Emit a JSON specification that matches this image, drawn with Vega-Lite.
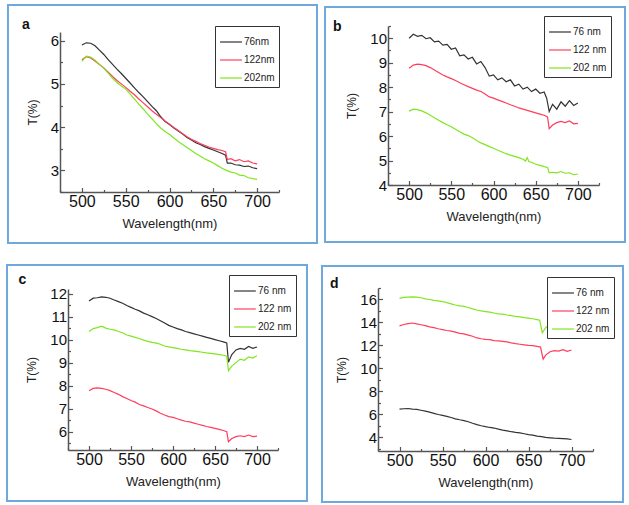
{
"$schema": "https://vega.github.io/schema/vega-lite/v6.json",
"background": "white",
"padding": 0,
"config": {
 "view": {"stroke": null},
 "axis": {"grid": false, "domainColor": "#555", "domainWidth": 1.5, "tickColor": "#555", "tickWidth": 1.2, "tickCount": 100, "labelFont": "Liberation Sans", "labelColor": "#111", "labelOverlap": false, "labelFlush": false, "titleFont": "Liberation Sans", "titleFontWeight": "normal", "titleColor": "#222", "titleFontSize": 13},
 "axisX": {"labelFontSize": 16, "labelPadding": 6, "titlePadding": 6},
 "axisY": {"labelFontSize": 15, "labelPadding": 6, "titlePadding": 11, "titleFontSize": 12},
 "legend": {"orient": "none", "strokeColor": "#333", "fillColor": "white", "padding": 4, "symbolType": "stroke", "symbolSize": 480, "symbolStrokeWidth": 1.5, "labelFont": "Liberation Sans", "labelFontSize": 10, "labelColor": "#222", "labelOffset": 1, "rowPadding": 1, "title": null},
 "line": {"strokeWidth": 1.2}
},
"datasets": {
 "a": [
  {"s":"76nm","w":500,"t":5.90},{"s":"76nm","w":505,"t":5.95},{"s":"76nm","w":510,"t":5.94},{"s":"76nm","w":515,"t":5.88},{"s":"76nm","w":520,"t":5.78},{"s":"76nm","w":525,"t":5.68},{"s":"76nm","w":530,"t":5.56},{"s":"76nm","w":535,"t":5.45},{"s":"76nm","w":540,"t":5.34},{"s":"76nm","w":545,"t":5.24},{"s":"76nm","w":550,"t":5.13},{"s":"76nm","w":555,"t":5.02},{"s":"76nm","w":560,"t":4.91},{"s":"76nm","w":565,"t":4.80},{"s":"76nm","w":570,"t":4.70},{"s":"76nm","w":575,"t":4.59},{"s":"76nm","w":580,"t":4.48},{"s":"76nm","w":585,"t":4.38},{"s":"76nm","w":590,"t":4.24},{"s":"76nm","w":595,"t":4.13},{"s":"76nm","w":600,"t":4.06},{"s":"76nm","w":605,"t":3.98},{"s":"76nm","w":610,"t":3.91},{"s":"76nm","w":615,"t":3.84},{"s":"76nm","w":620,"t":3.76},{"s":"76nm","w":625,"t":3.70},{"s":"76nm","w":630,"t":3.64},{"s":"76nm","w":635,"t":3.60},{"s":"76nm","w":640,"t":3.55},{"s":"76nm","w":645,"t":3.51},{"s":"76nm","w":650,"t":3.47},{"s":"76nm","w":655,"t":3.43},{"s":"76nm","w":660,"t":3.39},{"s":"76nm","w":664,"t":3.35},{"s":"76nm","w":666,"t":3.17},{"s":"76nm","w":670,"t":3.17},{"s":"76nm","w":675,"t":3.13},{"s":"76nm","w":680,"t":3.12},{"s":"76nm","w":685,"t":3.09},{"s":"76nm","w":690,"t":3.10},{"s":"76nm","w":695,"t":3.06},{"s":"76nm","w":700,"t":3.04},
  {"s":"122nm","w":500,"t":5.56},{"s":"122nm","w":505,"t":5.63},{"s":"122nm","w":510,"t":5.60},{"s":"122nm","w":515,"t":5.53},{"s":"122nm","w":520,"t":5.45},{"s":"122nm","w":525,"t":5.37},{"s":"122nm","w":530,"t":5.27},{"s":"122nm","w":535,"t":5.17},{"s":"122nm","w":540,"t":5.08},{"s":"122nm","w":545,"t":5.00},{"s":"122nm","w":550,"t":4.92},{"s":"122nm","w":555,"t":4.83},{"s":"122nm","w":560,"t":4.75},{"s":"122nm","w":565,"t":4.65},{"s":"122nm","w":570,"t":4.56},{"s":"122nm","w":575,"t":4.47},{"s":"122nm","w":580,"t":4.38},{"s":"122nm","w":585,"t":4.30},{"s":"122nm","w":590,"t":4.22},{"s":"122nm","w":595,"t":4.14},{"s":"122nm","w":600,"t":4.07},{"s":"122nm","w":605,"t":3.99},{"s":"122nm","w":610,"t":3.92},{"s":"122nm","w":615,"t":3.85},{"s":"122nm","w":620,"t":3.78},{"s":"122nm","w":625,"t":3.72},{"s":"122nm","w":630,"t":3.67},{"s":"122nm","w":635,"t":3.62},{"s":"122nm","w":640,"t":3.58},{"s":"122nm","w":645,"t":3.54},{"s":"122nm","w":650,"t":3.51},{"s":"122nm","w":655,"t":3.48},{"s":"122nm","w":660,"t":3.46},{"s":"122nm","w":664,"t":3.43},{"s":"122nm","w":666,"t":3.25},{"s":"122nm","w":670,"t":3.27},{"s":"122nm","w":675,"t":3.22},{"s":"122nm","w":680,"t":3.25},{"s":"122nm","w":685,"t":3.20},{"s":"122nm","w":690,"t":3.22},{"s":"122nm","w":695,"t":3.17},{"s":"122nm","w":700,"t":3.15},
  {"s":"202nm","w":500,"t":5.52},{"s":"202nm","w":505,"t":5.64},{"s":"202nm","w":510,"t":5.62},{"s":"202nm","w":515,"t":5.55},{"s":"202nm","w":520,"t":5.45},{"s":"202nm","w":525,"t":5.36},{"s":"202nm","w":530,"t":5.25},{"s":"202nm","w":535,"t":5.13},{"s":"202nm","w":540,"t":5.03},{"s":"202nm","w":545,"t":4.95},{"s":"202nm","w":550,"t":4.88},{"s":"202nm","w":555,"t":4.77},{"s":"202nm","w":560,"t":4.65},{"s":"202nm","w":565,"t":4.53},{"s":"202nm","w":570,"t":4.42},{"s":"202nm","w":575,"t":4.30},{"s":"202nm","w":580,"t":4.19},{"s":"202nm","w":585,"t":4.08},{"s":"202nm","w":590,"t":3.98},{"s":"202nm","w":595,"t":3.90},{"s":"202nm","w":600,"t":3.83},{"s":"202nm","w":605,"t":3.75},{"s":"202nm","w":610,"t":3.67},{"s":"202nm","w":615,"t":3.60},{"s":"202nm","w":620,"t":3.53},{"s":"202nm","w":625,"t":3.46},{"s":"202nm","w":630,"t":3.39},{"s":"202nm","w":635,"t":3.33},{"s":"202nm","w":640,"t":3.27},{"s":"202nm","w":645,"t":3.22},{"s":"202nm","w":650,"t":3.17},{"s":"202nm","w":655,"t":3.11},{"s":"202nm","w":660,"t":3.05},{"s":"202nm","w":665,"t":3.00},{"s":"202nm","w":670,"t":2.96},{"s":"202nm","w":675,"t":2.94},{"s":"202nm","w":680,"t":2.89},{"s":"202nm","w":685,"t":2.88},{"s":"202nm","w":690,"t":2.83},{"s":"202nm","w":695,"t":2.81},{"s":"202nm","w":700,"t":2.79}
 ],
 "b": [
  {"s":"76 nm","w":500,"t":10.00},{"s":"76 nm","w":505,"t":10.16},{"s":"76 nm","w":510,"t":10.08},{"s":"76 nm","w":515,"t":10.12},{"s":"76 nm","w":520,"t":9.98},{"s":"76 nm","w":525,"t":10.02},{"s":"76 nm","w":530,"t":9.85},{"s":"76 nm","w":535,"t":9.88},{"s":"76 nm","w":540,"t":9.72},{"s":"76 nm","w":545,"t":9.75},{"s":"76 nm","w":550,"t":9.55},{"s":"76 nm","w":555,"t":9.60},{"s":"76 nm","w":560,"t":9.28},{"s":"76 nm","w":565,"t":9.32},{"s":"76 nm","w":570,"t":9.15},{"s":"76 nm","w":575,"t":9.22},{"s":"76 nm","w":580,"t":8.95},{"s":"76 nm","w":585,"t":9.05},{"s":"76 nm","w":590,"t":8.80},{"s":"76 nm","w":595,"t":8.45},{"s":"76 nm","w":600,"t":8.50},{"s":"76 nm","w":605,"t":8.30},{"s":"76 nm","w":610,"t":8.38},{"s":"76 nm","w":615,"t":8.22},{"s":"76 nm","w":620,"t":8.30},{"s":"76 nm","w":625,"t":8.05},{"s":"76 nm","w":630,"t":8.12},{"s":"76 nm","w":635,"t":7.92},{"s":"76 nm","w":640,"t":8.00},{"s":"76 nm","w":645,"t":7.82},{"s":"76 nm","w":650,"t":7.92},{"s":"76 nm","w":655,"t":7.75},{"s":"76 nm","w":660,"t":7.80},{"s":"76 nm","w":663,"t":7.55},{"s":"76 nm","w":666,"t":7.00},{"s":"76 nm","w":670,"t":7.30},{"s":"76 nm","w":675,"t":7.10},{"s":"76 nm","w":680,"t":7.40},{"s":"76 nm","w":685,"t":7.22},{"s":"76 nm","w":690,"t":7.45},{"s":"76 nm","w":695,"t":7.25},{"s":"76 nm","w":700,"t":7.35},
  {"s":"122 nm","w":500,"t":8.77},{"s":"122 nm","w":505,"t":8.90},{"s":"122 nm","w":510,"t":8.94},{"s":"122 nm","w":515,"t":8.92},{"s":"122 nm","w":520,"t":8.88},{"s":"122 nm","w":525,"t":8.80},{"s":"122 nm","w":530,"t":8.70},{"s":"122 nm","w":535,"t":8.60},{"s":"122 nm","w":540,"t":8.50},{"s":"122 nm","w":545,"t":8.42},{"s":"122 nm","w":550,"t":8.35},{"s":"122 nm","w":555,"t":8.27},{"s":"122 nm","w":560,"t":8.18},{"s":"122 nm","w":565,"t":8.10},{"s":"122 nm","w":570,"t":8.02},{"s":"122 nm","w":575,"t":7.95},{"s":"122 nm","w":580,"t":7.88},{"s":"122 nm","w":585,"t":7.82},{"s":"122 nm","w":590,"t":7.72},{"s":"122 nm","w":595,"t":7.60},{"s":"122 nm","w":600,"t":7.55},{"s":"122 nm","w":605,"t":7.48},{"s":"122 nm","w":610,"t":7.42},{"s":"122 nm","w":615,"t":7.35},{"s":"122 nm","w":620,"t":7.28},{"s":"122 nm","w":625,"t":7.22},{"s":"122 nm","w":630,"t":7.15},{"s":"122 nm","w":635,"t":7.10},{"s":"122 nm","w":640,"t":7.05},{"s":"122 nm","w":645,"t":7.00},{"s":"122 nm","w":650,"t":6.95},{"s":"122 nm","w":655,"t":6.90},{"s":"122 nm","w":660,"t":6.85},{"s":"122 nm","w":664,"t":6.78},{"s":"122 nm","w":666,"t":6.30},{"s":"122 nm","w":670,"t":6.45},{"s":"122 nm","w":675,"t":6.55},{"s":"122 nm","w":680,"t":6.60},{"s":"122 nm","w":685,"t":6.55},{"s":"122 nm","w":690,"t":6.62},{"s":"122 nm","w":695,"t":6.50},{"s":"122 nm","w":700,"t":6.52},
  {"s":"202 nm","w":500,"t":7.02},{"s":"202 nm","w":505,"t":7.10},{"s":"202 nm","w":510,"t":7.08},{"s":"202 nm","w":515,"t":7.03},{"s":"202 nm","w":520,"t":6.95},{"s":"202 nm","w":525,"t":6.85},{"s":"202 nm","w":530,"t":6.75},{"s":"202 nm","w":535,"t":6.65},{"s":"202 nm","w":540,"t":6.55},{"s":"202 nm","w":545,"t":6.46},{"s":"202 nm","w":550,"t":6.38},{"s":"202 nm","w":555,"t":6.28},{"s":"202 nm","w":560,"t":6.18},{"s":"202 nm","w":565,"t":6.08},{"s":"202 nm","w":570,"t":6.02},{"s":"202 nm","w":575,"t":5.93},{"s":"202 nm","w":580,"t":5.82},{"s":"202 nm","w":585,"t":5.72},{"s":"202 nm","w":590,"t":5.65},{"s":"202 nm","w":595,"t":5.57},{"s":"202 nm","w":600,"t":5.50},{"s":"202 nm","w":605,"t":5.42},{"s":"202 nm","w":610,"t":5.35},{"s":"202 nm","w":615,"t":5.28},{"s":"202 nm","w":620,"t":5.22},{"s":"202 nm","w":625,"t":5.17},{"s":"202 nm","w":630,"t":5.12},{"s":"202 nm","w":635,"t":5.05},{"s":"202 nm","w":638,"t":4.98},{"s":"202 nm","w":640,"t":5.12},{"s":"202 nm","w":642,"t":4.95},{"s":"202 nm","w":645,"t":4.93},{"s":"202 nm","w":650,"t":4.85},{"s":"202 nm","w":655,"t":4.80},{"s":"202 nm","w":660,"t":4.75},{"s":"202 nm","w":664,"t":4.72},{"s":"202 nm","w":666,"t":4.50},{"s":"202 nm","w":670,"t":4.52},{"s":"202 nm","w":675,"t":4.50},{"s":"202 nm","w":680,"t":4.55},{"s":"202 nm","w":685,"t":4.48},{"s":"202 nm","w":690,"t":4.50},{"s":"202 nm","w":695,"t":4.42},{"s":"202 nm","w":700,"t":4.45}
 ],
 "c": [
  {"s":"76 nm","w":500,"t":11.68},{"s":"76 nm","w":505,"t":11.80},{"s":"76 nm","w":510,"t":11.82},{"s":"76 nm","w":515,"t":11.86},{"s":"76 nm","w":520,"t":11.84},{"s":"76 nm","w":525,"t":11.80},{"s":"76 nm","w":530,"t":11.72},{"s":"76 nm","w":535,"t":11.65},{"s":"76 nm","w":540,"t":11.58},{"s":"76 nm","w":545,"t":11.48},{"s":"76 nm","w":550,"t":11.40},{"s":"76 nm","w":555,"t":11.32},{"s":"76 nm","w":560,"t":11.25},{"s":"76 nm","w":565,"t":11.15},{"s":"76 nm","w":570,"t":11.08},{"s":"76 nm","w":575,"t":11.00},{"s":"76 nm","w":580,"t":10.92},{"s":"76 nm","w":585,"t":10.82},{"s":"76 nm","w":590,"t":10.72},{"s":"76 nm","w":595,"t":10.62},{"s":"76 nm","w":600,"t":10.55},{"s":"76 nm","w":605,"t":10.48},{"s":"76 nm","w":610,"t":10.42},{"s":"76 nm","w":615,"t":10.35},{"s":"76 nm","w":620,"t":10.30},{"s":"76 nm","w":625,"t":10.25},{"s":"76 nm","w":630,"t":10.20},{"s":"76 nm","w":635,"t":10.15},{"s":"76 nm","w":640,"t":10.10},{"s":"76 nm","w":645,"t":10.05},{"s":"76 nm","w":650,"t":10.00},{"s":"76 nm","w":655,"t":9.95},{"s":"76 nm","w":660,"t":9.90},{"s":"76 nm","w":664,"t":9.85},{"s":"76 nm","w":666,"t":9.02},{"s":"76 nm","w":670,"t":9.35},{"s":"76 nm","w":675,"t":9.55},{"s":"76 nm","w":680,"t":9.62},{"s":"76 nm","w":685,"t":9.58},{"s":"76 nm","w":690,"t":9.70},{"s":"76 nm","w":695,"t":9.62},{"s":"76 nm","w":700,"t":9.68},
  {"s":"122 nm","w":500,"t":7.78},{"s":"122 nm","w":505,"t":7.88},{"s":"122 nm","w":510,"t":7.90},{"s":"122 nm","w":515,"t":7.88},{"s":"122 nm","w":520,"t":7.84},{"s":"122 nm","w":525,"t":7.78},{"s":"122 nm","w":530,"t":7.70},{"s":"122 nm","w":535,"t":7.62},{"s":"122 nm","w":540,"t":7.52},{"s":"122 nm","w":545,"t":7.44},{"s":"122 nm","w":550,"t":7.35},{"s":"122 nm","w":555,"t":7.28},{"s":"122 nm","w":560,"t":7.18},{"s":"122 nm","w":565,"t":7.12},{"s":"122 nm","w":570,"t":7.05},{"s":"122 nm","w":575,"t":6.98},{"s":"122 nm","w":580,"t":6.90},{"s":"122 nm","w":585,"t":6.80},{"s":"122 nm","w":590,"t":6.72},{"s":"122 nm","w":595,"t":6.65},{"s":"122 nm","w":600,"t":6.62},{"s":"122 nm","w":605,"t":6.56},{"s":"122 nm","w":610,"t":6.50},{"s":"122 nm","w":615,"t":6.45},{"s":"122 nm","w":620,"t":6.42},{"s":"122 nm","w":625,"t":6.37},{"s":"122 nm","w":630,"t":6.32},{"s":"122 nm","w":635,"t":6.27},{"s":"122 nm","w":640,"t":6.22},{"s":"122 nm","w":645,"t":6.18},{"s":"122 nm","w":650,"t":6.14},{"s":"122 nm","w":655,"t":6.10},{"s":"122 nm","w":660,"t":6.05},{"s":"122 nm","w":664,"t":6.00},{"s":"122 nm","w":666,"t":5.56},{"s":"122 nm","w":670,"t":5.70},{"s":"122 nm","w":675,"t":5.78},{"s":"122 nm","w":680,"t":5.82},{"s":"122 nm","w":685,"t":5.78},{"s":"122 nm","w":690,"t":5.85},{"s":"122 nm","w":695,"t":5.78},{"s":"122 nm","w":700,"t":5.80},
  {"s":"202 nm","w":500,"t":10.35},{"s":"202 nm","w":505,"t":10.48},{"s":"202 nm","w":510,"t":10.52},{"s":"202 nm","w":515,"t":10.58},{"s":"202 nm","w":520,"t":10.50},{"s":"202 nm","w":525,"t":10.45},{"s":"202 nm","w":530,"t":10.42},{"s":"202 nm","w":535,"t":10.35},{"s":"202 nm","w":540,"t":10.30},{"s":"202 nm","w":545,"t":10.20},{"s":"202 nm","w":550,"t":10.15},{"s":"202 nm","w":555,"t":10.10},{"s":"202 nm","w":560,"t":10.05},{"s":"202 nm","w":565,"t":9.98},{"s":"202 nm","w":570,"t":9.92},{"s":"202 nm","w":575,"t":9.88},{"s":"202 nm","w":580,"t":9.85},{"s":"202 nm","w":585,"t":9.80},{"s":"202 nm","w":590,"t":9.72},{"s":"202 nm","w":595,"t":9.68},{"s":"202 nm","w":600,"t":9.65},{"s":"202 nm","w":605,"t":9.62},{"s":"202 nm","w":610,"t":9.58},{"s":"202 nm","w":615,"t":9.55},{"s":"202 nm","w":620,"t":9.52},{"s":"202 nm","w":625,"t":9.50},{"s":"202 nm","w":630,"t":9.48},{"s":"202 nm","w":635,"t":9.45},{"s":"202 nm","w":640,"t":9.42},{"s":"202 nm","w":645,"t":9.40},{"s":"202 nm","w":650,"t":9.38},{"s":"202 nm","w":655,"t":9.35},{"s":"202 nm","w":660,"t":9.32},{"s":"202 nm","w":664,"t":9.28},{"s":"202 nm","w":666,"t":8.65},{"s":"202 nm","w":670,"t":8.85},{"s":"202 nm","w":675,"t":9.00},{"s":"202 nm","w":680,"t":9.15},{"s":"202 nm","w":685,"t":9.10},{"s":"202 nm","w":690,"t":9.25},{"s":"202 nm","w":695,"t":9.20},{"s":"202 nm","w":700,"t":9.30}
 ],
 "d": [
  {"s":"76 nm","w":500,"t":6.45},{"s":"76 nm","w":505,"t":6.48},{"s":"76 nm","w":510,"t":6.50},{"s":"76 nm","w":515,"t":6.45},{"s":"76 nm","w":520,"t":6.42},{"s":"76 nm","w":525,"t":6.35},{"s":"76 nm","w":530,"t":6.28},{"s":"76 nm","w":535,"t":6.18},{"s":"76 nm","w":540,"t":6.08},{"s":"76 nm","w":545,"t":5.98},{"s":"76 nm","w":550,"t":5.90},{"s":"76 nm","w":555,"t":5.82},{"s":"76 nm","w":560,"t":5.72},{"s":"76 nm","w":565,"t":5.60},{"s":"76 nm","w":570,"t":5.52},{"s":"76 nm","w":575,"t":5.45},{"s":"76 nm","w":580,"t":5.35},{"s":"76 nm","w":585,"t":5.22},{"s":"76 nm","w":590,"t":5.10},{"s":"76 nm","w":595,"t":5.00},{"s":"76 nm","w":600,"t":4.92},{"s":"76 nm","w":605,"t":4.85},{"s":"76 nm","w":610,"t":4.80},{"s":"76 nm","w":615,"t":4.70},{"s":"76 nm","w":620,"t":4.62},{"s":"76 nm","w":625,"t":4.55},{"s":"76 nm","w":630,"t":4.48},{"s":"76 nm","w":635,"t":4.42},{"s":"76 nm","w":640,"t":4.38},{"s":"76 nm","w":645,"t":4.30},{"s":"76 nm","w":650,"t":4.22},{"s":"76 nm","w":655,"t":4.18},{"s":"76 nm","w":660,"t":4.10},{"s":"76 nm","w":665,"t":4.05},{"s":"76 nm","w":670,"t":3.98},{"s":"76 nm","w":675,"t":3.95},{"s":"76 nm","w":680,"t":3.92},{"s":"76 nm","w":685,"t":3.90},{"s":"76 nm","w":690,"t":3.88},{"s":"76 nm","w":695,"t":3.85},{"s":"76 nm","w":700,"t":3.80},
  {"s":"122 nm","w":500,"t":13.70},{"s":"122 nm","w":505,"t":13.82},{"s":"122 nm","w":510,"t":13.90},{"s":"122 nm","w":515,"t":13.95},{"s":"122 nm","w":520,"t":13.88},{"s":"122 nm","w":525,"t":13.80},{"s":"122 nm","w":530,"t":13.72},{"s":"122 nm","w":535,"t":13.62},{"s":"122 nm","w":540,"t":13.55},{"s":"122 nm","w":545,"t":13.45},{"s":"122 nm","w":550,"t":13.38},{"s":"122 nm","w":555,"t":13.30},{"s":"122 nm","w":560,"t":13.25},{"s":"122 nm","w":565,"t":13.15},{"s":"122 nm","w":570,"t":13.05},{"s":"122 nm","w":575,"t":13.00},{"s":"122 nm","w":580,"t":12.90},{"s":"122 nm","w":585,"t":12.80},{"s":"122 nm","w":590,"t":12.65},{"s":"122 nm","w":595,"t":12.58},{"s":"122 nm","w":600,"t":12.52},{"s":"122 nm","w":605,"t":12.50},{"s":"122 nm","w":610,"t":12.42},{"s":"122 nm","w":615,"t":12.40},{"s":"122 nm","w":620,"t":12.35},{"s":"122 nm","w":625,"t":12.30},{"s":"122 nm","w":630,"t":12.22},{"s":"122 nm","w":635,"t":12.15},{"s":"122 nm","w":640,"t":12.10},{"s":"122 nm","w":645,"t":12.05},{"s":"122 nm","w":650,"t":12.00},{"s":"122 nm","w":655,"t":11.98},{"s":"122 nm","w":660,"t":11.92},{"s":"122 nm","w":664,"t":11.85},{"s":"122 nm","w":667,"t":10.80},{"s":"122 nm","w":670,"t":11.15},{"s":"122 nm","w":675,"t":11.45},{"s":"122 nm","w":680,"t":11.55},{"s":"122 nm","w":685,"t":11.50},{"s":"122 nm","w":690,"t":11.62},{"s":"122 nm","w":695,"t":11.48},{"s":"122 nm","w":700,"t":11.60},
  {"s":"202 nm","w":500,"t":16.10},{"s":"202 nm","w":505,"t":16.18},{"s":"202 nm","w":510,"t":16.20},{"s":"202 nm","w":515,"t":16.22},{"s":"202 nm","w":520,"t":16.20},{"s":"202 nm","w":525,"t":16.15},{"s":"202 nm","w":530,"t":16.05},{"s":"202 nm","w":535,"t":16.00},{"s":"202 nm","w":540,"t":15.92},{"s":"202 nm","w":545,"t":15.88},{"s":"202 nm","w":550,"t":15.82},{"s":"202 nm","w":555,"t":15.72},{"s":"202 nm","w":560,"t":15.62},{"s":"202 nm","w":565,"t":15.52},{"s":"202 nm","w":570,"t":15.45},{"s":"202 nm","w":575,"t":15.40},{"s":"202 nm","w":580,"t":15.30},{"s":"202 nm","w":585,"t":15.18},{"s":"202 nm","w":590,"t":15.08},{"s":"202 nm","w":595,"t":15.00},{"s":"202 nm","w":600,"t":14.95},{"s":"202 nm","w":605,"t":14.90},{"s":"202 nm","w":610,"t":14.82},{"s":"202 nm","w":615,"t":14.75},{"s":"202 nm","w":620,"t":14.72},{"s":"202 nm","w":625,"t":14.65},{"s":"202 nm","w":630,"t":14.60},{"s":"202 nm","w":635,"t":14.52},{"s":"202 nm","w":640,"t":14.48},{"s":"202 nm","w":645,"t":14.42},{"s":"202 nm","w":650,"t":14.38},{"s":"202 nm","w":655,"t":14.32},{"s":"202 nm","w":660,"t":14.25},{"s":"202 nm","w":663,"t":14.20},{"s":"202 nm","w":666,"t":13.10},{"s":"202 nm","w":670,"t":13.55},{"s":"202 nm","w":675,"t":13.85},{"s":"202 nm","w":680,"t":13.95},{"s":"202 nm","w":685,"t":13.90},{"s":"202 nm","w":690,"t":14.00},{"s":"202 nm","w":695,"t":13.95},{"s":"202 nm","w":700,"t":14.08}
 ],
 "one": [{}]
},
"resolve": {"scale": {"x": "independent", "y": "independent", "color": "independent"}, "legend": {"color": "independent"}, "axis": {"x": "independent", "y": "independent"}},
"spacing": 15,
"vconcat": [
 {
  "resolve": {"scale": {"x": "independent", "y": "independent", "color": "independent"}, "legend": {"color": "independent"}, "axis": {"x": "independent", "y": "independent"}},
  "spacing": 5,
  "hconcat": [
   {"width": 1, "height": 1, "data": {"name": "one"}, "mark": {"type": "point", "opacity": 0, "size": 1, "filled": true, "strokeWidth": 0}},
   {
    "resolve": {"scale": {"x": "independent", "y": "independent", "color": "independent"}, "legend": {"color": "independent"}, "axis": {"x": "independent", "y": "independent"}},
    "spacing": 3,
    "vconcat": [
     {"width": 1, "height": 1, "data": {"name": "one"}, "mark": {"type": "point", "opacity": 0, "size": 1, "filled": true, "strokeWidth": 0}},
     {
      "width": 219, "height": 160,
      "layer": [
       {"data": {"name": "a"}, "mark": {"type": "line"},
        "encoding": {
         "x": {"field": "w", "type": "quantitative", "scale": {"domain": [475, 725], "nice": false, "zero": false}, "axis": {"title": "Wavelength(nm)", "tickCount": 100, "values": [475,500,525,550,575,600,625,650,675,700,725], "labelExpr": "datum.value % 50 == 0 ? format(datum.value, 'd') : ''", "tickSize": {"condition": {"test": "datum.value % 50 != 0", "value": -2.5}, "value": -4.5}, "labelOverlap": false}},
         "y": {"field": "t", "type": "quantitative", "scale": {"domain": [2.5, 6.2], "nice": false, "zero": false}, "axis": {"title": "T(%)", "tickCount": 100, "values": [2.5,3,3.5,4,4.5,5,5.5,6], "labelExpr": "datum.value % 1 == 0 ? format(datum.value, 'd') : ''", "tickSize": {"condition": {"test": "datum.value % 1 != 0", "value": -2.5}, "value": -4.5}, "labelOverlap": false}},
         "color": {"field": "s", "type": "nominal", "scale": {"domain": ["76nm","122nm","202nm"], "range": ["#333333","#ff3d5e","#80e61e"]}, "legend": {"legendX": 155, "legendY": -6}}
        }},
       {"data": {"name": "one"}, "mark": {"type": "rect", "filled": false, "stroke": "#6fa8dc", "strokeWidth": 2},
        "encoding": {"x": {"datum": 415.6, "type": "quantitative"}, "x2": {"datum": 768.4}, "y": {"datum": 6.824, "type": "quantitative"}, "y2": {"datum": 1.32}}},
       {"data": {"name": "one"}, "mark": {"type": "text", "text": "a", "font": "Liberation Sans", "fontWeight": "bold", "fontSize": 14, "align": "left", "baseline": "alphabetic", "color": "#111"},
        "encoding": {"x": {"datum": 431.6, "type": "quantitative"}, "y": {"datum": 6.27, "type": "quantitative"}}}
      ]
     }
    ]
   },
   {
    "resolve": {"scale": {"x": "independent", "y": "independent", "color": "independent"}, "legend": {"color": "independent"}, "axis": {"x": "independent", "y": "independent"}},
    "spacing": 4,
    "vconcat": [
     {"width": 1, "height": 1, "data": {"name": "one"}, "mark": {"type": "point", "opacity": 0, "size": 1, "filled": true, "strokeWidth": 0}},
     {
      "width": 211, "height": 159,
      "layer": [
       {"data": {"name": "b"}, "mark": {"type": "line"},
        "encoding": {
         "x": {"field": "w", "type": "quantitative", "scale": {"domain": [475, 725], "nice": false, "zero": false}, "axis": {"title": "Wavelength(nm)", "tickCount": 100, "values": [475,500,525,550,575,600,625,650,675,700,725], "labelExpr": "datum.value % 50 == 0 ? format(datum.value, 'd') : ''", "tickSize": {"condition": {"test": "datum.value % 50 != 0", "value": -2.5}, "value": -4.5}, "labelOverlap": false}},
         "y": {"field": "t", "type": "quantitative", "scale": {"domain": [4, 10.5], "nice": false, "zero": false}, "axis": {"title": "T(%)", "tickCount": 100, "values": [4,4.5,5,5.5,6,6.5,7,7.5,8,8.5,9,9.5,10,10.5], "labelExpr": "datum.value % 1 == 0 ? format(datum.value, 'd') : ''", "tickSize": {"condition": {"test": "datum.value % 1 != 0", "value": -2.5}, "value": -4.5}, "labelOverlap": false}},
         "color": {"field": "s", "type": "nominal", "scale": {"domain": ["76 nm","122 nm","202 nm"], "range": ["#333333","#ff3d5e","#80e61e"]}, "legend": {"legendX": 156, "legendY": -10}}
        }},
       {"data": {"name": "one"}, "mark": {"type": "rect", "filled": false, "stroke": "#6fa8dc", "strokeWidth": 2},
        "encoding": {"x": {"datum": 400.4, "type": "quantitative"}, "x2": {"datum": 755.8}, "y": {"datum": 11.28, "type": "quantitative"}, "y2": {"datum": 1.67}}},
       {"data": {"name": "one"}, "mark": {"type": "text", "text": "b", "font": "Liberation Sans", "fontWeight": "bold", "fontSize": 14, "align": "left", "baseline": "alphabetic", "color": "#111"},
        "encoding": {"x": {"datum": 409.8, "type": "quantitative"}, "y": {"datum": 10.3, "type": "quantitative"}}}
      ]
     }
    ]
   }
  ]
 },
 {
  "resolve": {"scale": {"x": "independent", "y": "independent", "color": "independent"}, "legend": {"color": "independent"}, "axis": {"x": "independent", "y": "independent"}},
  "spacing": 5,
  "hconcat": [
   {"width": 1, "height": 1, "data": {"name": "one"}, "mark": {"type": "point", "opacity": 0, "size": 1, "filled": true, "strokeWidth": 0}},
   {
    "resolve": {"scale": {"x": "independent", "y": "independent", "color": "independent"}, "legend": {"color": "independent"}, "axis": {"x": "independent", "y": "independent"}},
    "spacing": 3,
    "vconcat": [
     {"width": 1, "height": 1, "data": {"name": "one"}, "mark": {"type": "point", "opacity": 0, "size": 1, "filled": true, "strokeWidth": 0}},
     {
      "width": 210, "height": 161,
      "layer": [
       {"data": {"name": "c"}, "mark": {"type": "line"},
        "encoding": {
         "x": {"field": "w", "type": "quantitative", "scale": {"domain": [475, 725], "nice": false, "zero": false}, "axis": {"title": "Wavelength(nm)", "tickCount": 100, "values": [475,500,525,550,575,600,625,650,675,700,725], "labelExpr": "datum.value % 50 == 0 ? format(datum.value, 'd') : ''", "tickSize": {"condition": {"test": "datum.value % 50 != 0", "value": -2.5}, "value": -4.5}, "labelOverlap": false}},
         "y": {"field": "t", "type": "quantitative", "scale": {"domain": [5.2, 12.2], "nice": false, "zero": false}, "axis": {"title": "T(%)", "tickCount": 100, "values": [5.5,6,6.5,7,7.5,8,8.5,9,9.5,10,10.5,11,11.5,12], "labelExpr": "datum.value % 1 == 0 ? format(datum.value, 'd') : ''", "tickSize": {"condition": {"test": "datum.value % 1 != 0", "value": -2.5}, "value": -4.5}, "labelOverlap": false}},
         "color": {"field": "s", "type": "nominal", "scale": {"domain": ["76 nm","122 nm","202 nm"], "range": ["#333333","#ff3d5e","#80e61e"]}, "legend": {"legendX": 161, "legendY": -14}}
        }},
       {"data": {"name": "one"}, "mark": {"type": "rect", "filled": false, "stroke": "#6fa8dc", "strokeWidth": 2},
        "encoding": {"x": {"datum": 402.4, "type": "quantitative"}, "x2": {"datum": 759.5}, "y": {"datum": 13.24, "type": "quantitative"}, "y2": {"datum": 2.98}}},
       {"data": {"name": "one"}, "mark": {"type": "rect", "filled": false, "strokeOpacity": 0, "stroke": "#ffffff", "strokeWidth": 2},
        "encoding": {"x": {"datum": 402.4, "type": "quantitative"}, "x2": {"datum": 770.2}, "y": {"datum": 13.24, "type": "quantitative"}, "y2": {"datum": 2.98}}},
       {"data": {"name": "one"}, "mark": {"type": "text", "text": "c", "font": "Liberation Sans", "fontWeight": "bold", "fontSize": 14, "align": "left", "baseline": "alphabetic", "color": "#111"},
        "encoding": {"x": {"datum": 416.1, "type": "quantitative"}, "y": {"datum": 12.4, "type": "quantitative"}}}
      ]
     }
    ]
   },
   {
    "resolve": {"scale": {"x": "independent", "y": "independent", "color": "independent"}, "legend": {"color": "independent"}, "axis": {"x": "independent", "y": "independent"}},
    "spacing": 3,
    "vconcat": [
     {"width": 1, "height": 1, "data": {"name": "one"}, "mark": {"type": "point", "opacity": 0, "size": 1, "filled": true, "strokeWidth": 0}},
     {
      "width": 215, "height": 163,
      "layer": [
       {"data": {"name": "d"}, "mark": {"type": "line"},
        "encoding": {
         "x": {"field": "w", "type": "quantitative", "scale": {"domain": [475, 725], "nice": false, "zero": false}, "axis": {"title": "Wavelength(nm)", "tickCount": 100, "values": [475,500,525,550,575,600,625,650,675,700,725], "labelExpr": "datum.value % 50 == 0 ? format(datum.value, 'd') : ''", "tickSize": {"condition": {"test": "datum.value % 50 != 0", "value": -2.5}, "value": -4.5}, "labelOverlap": false}},
         "y": {"field": "t", "type": "quantitative", "scale": {"domain": [2.8, 17], "nice": false, "zero": false}, "axis": {"title": "T(%)", "tickCount": 100, "values": [3,4,5,6,7,8,9,10,11,12,13,14,15,16,17], "labelExpr": "datum.value % 2 == 0 ? format(datum.value, 'd') : ''", "tickSize": {"condition": {"test": "datum.value % 2 != 0", "value": -2.5}, "value": -4.5}, "labelOverlap": false}},
         "color": {"field": "s", "type": "nominal", "scale": {"domain": ["76 nm","122 nm","202 nm"], "range": ["#333333","#ff3d5e","#80e61e"]}, "legend": {"legendX": 169, "legendY": -11}}
        }},
       {"data": {"name": "one"}, "mark": {"type": "rect", "filled": false, "stroke": "#6fa8dc", "strokeWidth": 2},
        "encoding": {"x": {"datum": 409.9, "type": "quantitative"}, "x2": {"datum": 759.9}, "y": {"datum": 18.92, "type": "quantitative"}, "y2": {"datum": -1.64}}},
       {"data": {"name": "one"}, "mark": {"type": "text", "text": "d", "font": "Liberation Sans", "fontWeight": "bold", "fontSize": 14, "align": "left", "baseline": "alphabetic", "color": "#111"},
        "encoding": {"x": {"datum": 419.2, "type": "quantitative"}, "y": {"datum": 16.96, "type": "quantitative"}}}
      ]
     }
    ]
   }
  ]
 }
]
}
